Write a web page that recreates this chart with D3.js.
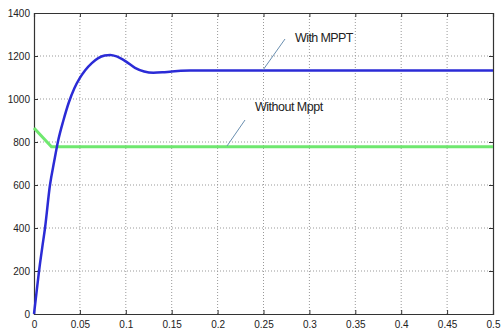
<!DOCTYPE html>
<html>
<head>
<meta charset="utf-8">
<script src="https://cdn.jsdelivr.net/npm/d3@7"></script>
<style>
body{margin:0;background:#fff;}
svg{display:block;}
.tick text{font-family:"Liberation Sans Narrow","Liberation Sans",Arial,sans-serif;font-size:10px;fill:#222;}
</style>
</head>
<body>
<div id="chart"></div>
<script>
// data
var xTicks = [0, 0.05, 0.1, 0.15, 0.2, 0.25, 0.3, 0.35, 0.4, 0.45, 0.5];
var yTicks = [0, 200, 400, 600, 800, 1000, 1200, 1400];

var withT = [0, 0.003, 0.0055, 0.009, 0.012, 0.0174, 0.022, 0.026, 0.032, 0.038, 0.044, 0.05, 0.056, 0.063, 0.07, 0.077, 0.083, 0.09, 0.1, 0.11, 0.12, 0.13, 0.14, 0.15, 0.17, 0.2, 0.3, 0.4, 0.5];
var withV = [0, 110, 200, 310, 400, 600, 710, 800, 900, 985, 1050, 1098, 1135, 1167, 1190, 1202, 1205, 1198, 1175, 1145, 1128, 1122, 1124, 1128, 1132, 1133, 1133, 1133, 1133];

var withoutT = [0, 0.019, 0.1, 0.2, 0.3, 0.4, 0.5];
var withoutV = [865, 778, 778, 778, 778, 778, 778];

var margin = {top: 13, right: 8, bottom: 18, left: 34},
    width = 501 - margin.left - margin.right,
    height = 332 - margin.top - margin.bottom;

var svg = d3.select("#chart").append("svg")
    .attr("width", 501).attr("height", 332);
var g = svg.append("g").attr("transform", "translate(" + margin.left + "," + margin.top + ")");

var x = d3.scaleLinear().domain([0, 0.5]).range([0, width]);
var y = d3.scaleLinear().domain([0, 1400]).range([height, 0]);

// grid
g.selectAll(".gx").data(xTicks.slice(1, -1)).enter().append("line")
    .attr("x1", d => x(d)).attr("x2", d => x(d)).attr("y1", 0).attr("y2", height)
    .style("stroke", "#999").style("stroke-dasharray", "1,2");
g.selectAll(".gy").data(yTicks.slice(1, -1)).enter().append("line")
    .attr("x1", 0).attr("x2", width).attr("y1", d => y(d)).attr("y2", d => y(d))
    .style("stroke", "#999").style("stroke-dasharray", "1,2");

// axes
var xAxis = g.append("g").attr("transform", "translate(0," + height + ")")
    .call(d3.axisBottom(x).tickValues(xTicks).tickSize(-4).tickPadding(7)
        .tickFormat(d => String(d)));
var xTop = g.append("g").call(d3.axisTop(x).tickValues(xTicks).tickSize(-4).tickFormat(""));
var yAxis = g.append("g")
    .call(d3.axisLeft(y).tickValues(yTicks).tickSize(-4).tickPadding(4).tickFormat(d3.format("d")));
var yRight = g.append("g").attr("transform", "translate(" + width + ",0)")
    .call(d3.axisRight(y).tickValues(yTicks).tickSize(-4).tickFormat(""));
[xAxis, xTop, yAxis, yRight].forEach(function(a){
    a.select(".domain").style("stroke", "#333").style("stroke-width", 1.2);
    a.selectAll(".tick line").style("stroke", "#333");
});

var line = d3.line().x(d => x(d[0])).y(d => y(d[1]));

// without mppt (green)
g.append("path").datum(d3.zip(withoutT, withoutV))
    .attr("d", line).style("fill", "none")
    .style("stroke", "#6fe86f").style("stroke-width", 3);

// with mppt (blue)
g.append("path").datum(d3.zip(withT, withV))
    .attr("d", d3.line().curve(d3.curveMonotoneX).x(d => x(d[0])).y(d => y(d[1])))
    .style("fill", "none").style("stroke", "#2b2bd6").style("stroke-width", 2.5);

// annotations
svg.append("line").attr("x1", 285).attr("y1", 39).attr("x2", 263).attr("y2", 70)
    .style("stroke", "#6a8fb0").style("stroke-width", 1);
svg.append("text").attr("x", 295).attr("y", 42).text("With MPPT")
    .style("font-family", "'Liberation Sans',Arial,sans-serif").style("font-size", "12.5px")
    .style("letter-spacing", "-0.6px").style("fill", "#222");
svg.append("line").attr("x1", 245).attr("y1", 120).attr("x2", 227).attr("y2", 146)
    .style("stroke", "#6a8fb0").style("stroke-width", 1);
svg.append("text").attr("x", 255).attr("y", 111).text("Without Mppt")
    .style("font-family", "'Liberation Sans',Arial,sans-serif").style("font-size", "12.5px")
    .style("letter-spacing", "-0.5px").style("fill", "#222");
</script>
</body>
</html>
